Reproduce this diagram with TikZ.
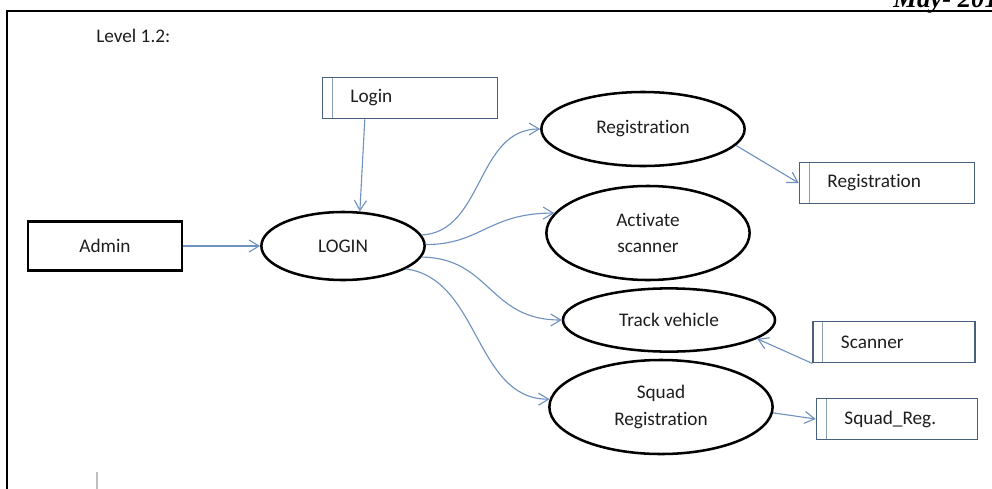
\documentclass[tikz,border=0pt]{standalone}
\usepackage{fontspec}
\setmainfont{Carlito}[Ligatures=NoCommon]
\newfontfamily\datefont{Liberation Serif}
\usepackage{tikz}
\usetikzlibrary{shapes.geometric, arrows.meta}
\definecolor{flowblue}{RGB}{112,146,190}
\definecolor{storeline}{RGB}{72,96,126}
\definecolor{storeinner}{RGB}{140,160,185}
\definecolor{textgray}{RGB}{30,30,30}

\begin{document}
\begin{tikzpicture}[x=0.025cm, y=-0.025cm,
  every node/.style={font=\fontsize{13.7}{19}\selectfont, text=textgray},
  process/.style={ellipse, draw=black, line width=1.8pt, align=center, inner sep=0pt},
  entity/.style={rectangle, draw=black, line width=1.7pt,
                 minimum width=3.85cm, minimum height=1.22cm},
  store/.style={rectangle, draw=storeline, line width=1.1pt, minimum height=1.03cm,
                inner xsep=0.7cm, text width=#1, align=left,
                path picture={\draw[storeinner, line width=0.8pt]
                  ([xshift=0.24cm]path picture bounding box.north west) --
                  ([xshift=0.24cm]path picture bounding box.south west);}},
  flow/.style={flowblue, line width=0.8pt, -{Straight Barb[length=2.5mm, width=3mm]}}]

% ── Rahmen und Seitenkopf ────────────────────────────────────────────
\useasboundingbox (0,0) rectangle (992,488);
\clip (0,0) rectangle (992,488);
\draw[line width=1.6pt] (7,500) -- (7,11) -- (1000,11);
\node[font=\datefont\bfseries\itshape\fontsize{19}{21}\selectfont, text=black,
      anchor=base west, inner sep=0pt] (date) at (893,7) {May- 201};
\draw[black!25, line width=1pt] (97,472) -- (97,490);
\node[anchor=west, inner sep=0pt] (level) at (96,36) {Level 1.2:};

% ── Prozesse ─────────────────────────────────────────────────────────
\node[entity] (admin) at (105,246) {Admin};
\node[process, minimum width=4.08cm, minimum height=1.7cm]  (login)    at (343,246) {LOGIN};
\node[process, minimum width=5.08cm, minimum height=1.85cm] (reg)      at (643,129) {Registration};
\node[process, minimum width=5.08cm, minimum height=2.35cm] (activate) at (648,233) {Activate\\scanner};
\node[process, minimum width=5.3cm,  minimum height=1.58cm] (track)    at (669,320) {Track vehicle};
\node[process, minimum width=5.58cm, minimum height=2.35cm] (squad)    at (661,407) {Squad\\Registration};

% ── Datenspeicher ────────────────────────────────────────────────────
\node[store=2.975cm] (loginstore) at (410,98)  {Login};
\node[store=2.975cm] (regstore)   at (887,183) {Registration};
\node[store=2.65cm]  (scanner)    at (894,342) {Scanner};
\node[store=2.625cm] (squadstore) at (897,419) {Squad\_Reg.};

% ── Datenfluss ───────────────────────────────────────────────────────
\draw[flow] (admin) -- (login);
\draw[flow] ([xshift=-1.13cm]loginstore.south) -- (login.64);
\draw[flow] (login.8)   .. controls +(62,-3) and +(-64,0) .. (reg.west);
\draw[flow] (login.1)   .. controls +(55,0)  and +(-66,0) .. (activate.168);
\draw[flow] (login.-8)  .. controls +(69,1)  and +(-73,0) .. (track.west);
\draw[flow] (login.-20) .. controls +(74,10) and +(-75,0) .. (squad.176);
\draw[flow] (reg.-10) -- (regstore.west);
\draw[flow] (scanner.south west) -- (track.-12);
\draw[flow] (squad.-3) -- (squadstore.west);

\end{tikzpicture}
\end{document}
